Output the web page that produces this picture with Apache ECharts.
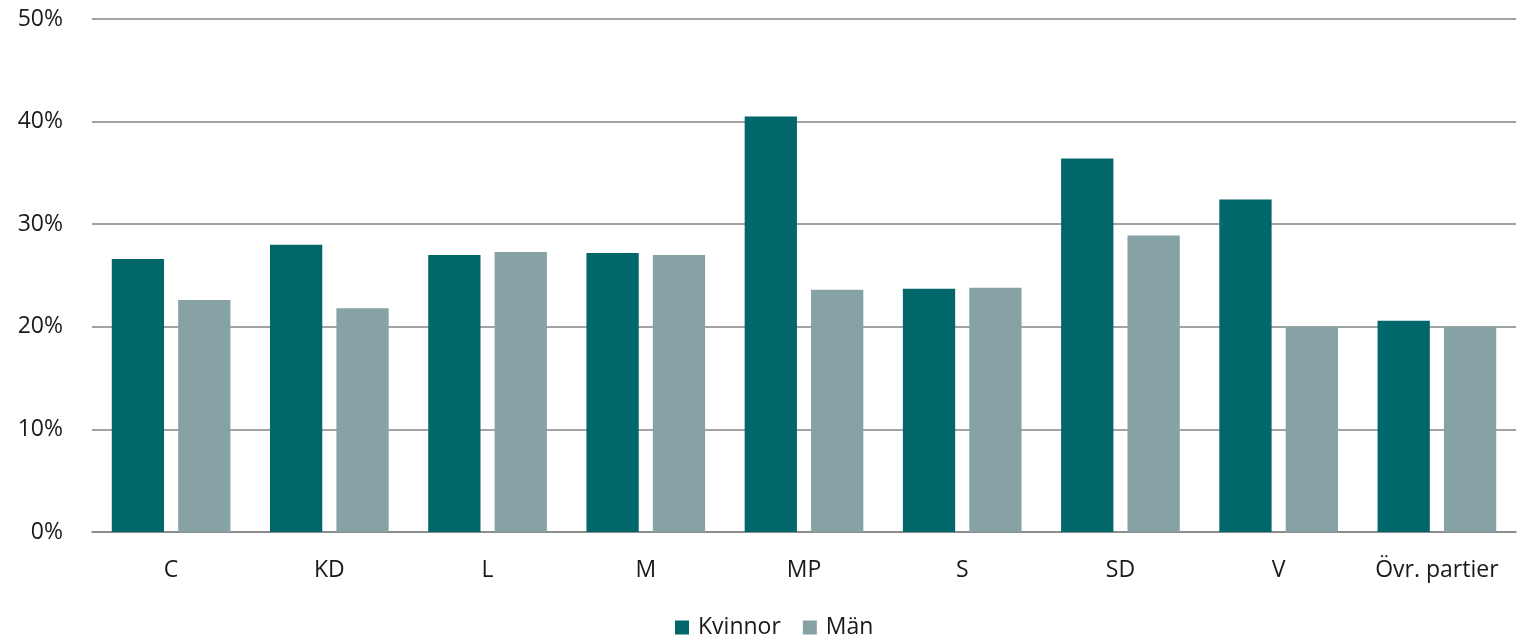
<!DOCTYPE html>
<html>
<head>
<meta charset="utf-8">
<script src="https://cdn.jsdelivr.net/npm/echarts@6/dist/echarts.min.js"></script>
<style>
html,body{margin:0;padding:0;background:#fff;}
#chart{width:1517px;height:638px;}
</style>
</head>
<body>
<div id="chart"></div>
<script>
const categories = ['C','KD','L','M','MP','S','SD','V','Övr. partier'];
const kvinnor = [26.6, 28.0, 27.0, 27.2, 40.5, 23.7, 36.4, 32.4, 20.6];
const man = [22.6, 21.8, 27.3, 27.0, 23.6, 23.8, 28.9, 20.0, 20.0];
const seriesNames = ['Kvinnor','Män'];
const yTicks = {min:0, max:50, interval:10};

const chart = echarts.init(document.getElementById('chart'));
const font = '"Open Sans", "Noto Sans", sans-serif';
chart.setOption({
  animation:false,
  color:['#02676A','#87A2A5'],
  textStyle:{fontFamily:font},
  grid:{left:92,right:1,top:19,bottom:106,containLabel:false},
  legend:{
    data:seriesNames,
    left:670, top:611,
    itemWidth:14, itemHeight:14, itemGap:22,
    icon:'rect',
    textStyle:{fontSize:23,color:'#1a1a1a',fontFamily:font,padding:[0,0,0,4]}
  },
  xAxis:{
    type:'category',
    data:categories,
    axisLine:{lineStyle:{color:'#858585',width:1.6}},
    axisTick:{show:false},
    axisLabel:{fontSize:23,color:'#1a1a1a',margin:27,interval:0,hideOverlap:false,fontFamily:font}
  },
  yAxis:{
    type:'value',
    min:yTicks.min,max:yTicks.max,interval:yTicks.interval,
    axisLine:{show:false},
    axisTick:{show:false},
    splitLine:{lineStyle:{color:'#858585',width:1.6}},
    axisLabel:{fontSize:23,color:'#1a1a1a',margin:29,formatter:'{value}%',fontFamily:font}
  },
  series:[
    {name:seriesNames[0],type:'bar',data:kvinnor,barGap:'27%',barCategoryGap:'25%'},
    {name:seriesNames[1],type:'bar',data:man,barGap:'27%',barCategoryGap:'25%'}
  ]
});
</script>
</body>
</html>
